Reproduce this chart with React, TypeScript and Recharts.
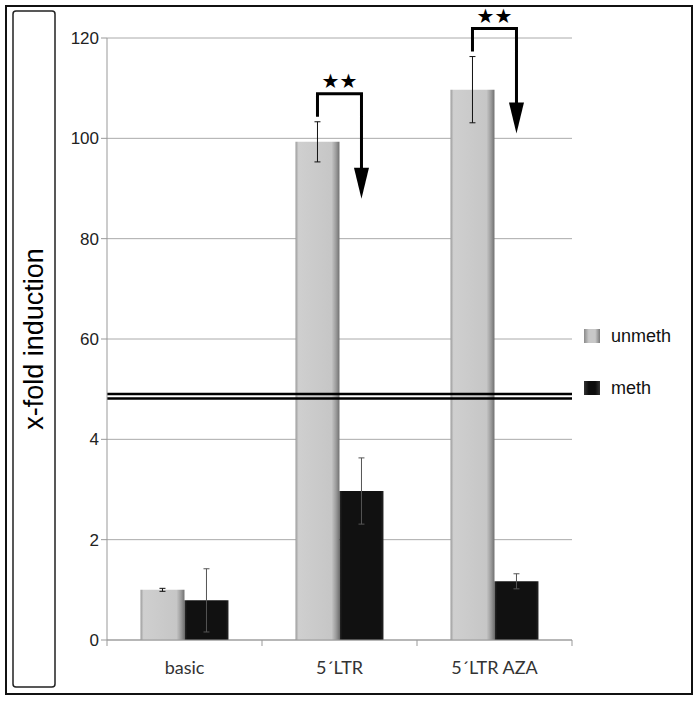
import { BarChart, Bar, XAxis, YAxis, CartesianGrid, ErrorBar, ReferenceLine, Legend, LabelList } from 'recharts'

const categories = ['basic', '5´LTR', '5´LTR AZA']
const unmeth = [1.0, 99.3, 109.7]
const unmethErr = [0.03, 4.0, 6.6]
const meth = [0.79, 2.97, 1.17]
const methErr = [0.63, 0.66, 0.15]
const significance = ['', '★★', '★★']
const yTickValues = [0, 2, 4, 60, 80, 100, 120]

// broken axis: 0-4 on the lower half, 60-120 on the upper half
const toAxis = (v: number) => (v <= 4 ? v / 2 : 3 + (v - 60) / 20)
const breakAt = 2.43

const rows = categories.map((name, i) => {
  const u = toAxis(unmeth[i])
  const m = toAxis(meth[i])
  return {
    name,
    unmeth: u,
    meth: m,
    unmethErr: [u - toAxis(unmeth[i] - unmethErr[i]), toAxis(unmeth[i] + unmethErr[i]) - u],
    methErr: [m - toAxis(meth[i] - methErr[i]), toAxis(meth[i] + methErr[i]) - m]
  }
})

const SANS = '"Liberation Sans", Arial, sans-serif'
const BAND = (572 - 107) / categories.length

const SigArrow = (props: any) => {
  const { x, y, width, height, value, index } = props
  const mark = significance[index]
  if (!mark) return null
  const ppu = height / value
  const errTop = y - rows[index].unmethErr[1] * ppu
  const lx = x + width / 2
  const rx = x + width * 1.5
  const hy = errTop - 28
  return (
    <g>
      <polyline
        points={`${lx},${errTop - 5} ${lx},${hy} ${rx},${hy} ${rx},${hy + 76}`}
        fill="none"
        stroke="#000"
        strokeWidth={3}
      />
      <polygon points={`${rx - 7.5},${hy + 74} ${rx + 7.5},${hy + 74} ${rx},${hy + 105}`} fill="#000" />
      <text
        x={(lx + rx) / 2}
        y={hy - 6}
        textAnchor="middle"
        fontSize={20}
        fontFamily="DejaVu Sans"
        fill="#000"
      >
        {mark}
      </text>
    </g>
  )
}

const XTick = (props: any) => {
  const { x, y, payload, index } = props
  return (
    <g>
      <line x1={x - BAND / 2} y1={y - 8} x2={x - BAND / 2} y2={y - 2} stroke="#999" />
      {index === categories.length - 1 && (
        <line x1={x + BAND / 2} y1={y - 8} x2={x + BAND / 2} y2={y - 2} stroke="#999" />
      )}
      <text x={x} y={y + 26} textAnchor="middle" fontSize={18} fontFamily="Lato, sans-serif" fill="#333">
        {payload.value}
      </text>
    </g>
  )
}

const YLabel = () => (
  <g>
    <rect x={13} y={11} width={42} height={676} rx={3} fill="none" stroke="#222" strokeWidth={1.5} />
    <text
      x={43}
      y={339}
      transform="rotate(-90 43 339)"
      textAnchor="middle"
      fontSize={27}
      fontFamily={SANS}
      fill="#000"
    >
      x-fold induction
    </text>
  </g>
)

const legendItems = [
  { label: 'unmeth', bg: 'linear-gradient(90deg,#8a8a8a,#c8c8c8 30%,#c8c8c8 70%,#7a7a7a)' },
  { label: 'meth', bg: 'linear-gradient(90deg,#333,#0d0d0d 30%,#0d0d0d 70%,#333)' }
]

const LegendBox = () => (
  <div style={{ fontFamily: SANS, fontSize: 18, color: '#111' }}>
    {legendItems.map(it => (
      <div key={it.label} style={{ display: 'flex', alignItems: 'center', height: 26, marginBottom: 26 }}>
        <span style={{ display: 'inline-block', width: 16, height: 14, background: it.bg }} />
        <span style={{ marginLeft: 11 }}>{it.label}</span>
      </div>
    ))}
  </div>
)

export default function App() {
  return (
    <div style={{ position: 'absolute', left: 0, top: 0, width: 699, height: 701, background: '#fff' }}>
      <BarChart
        width={699}
        height={701}
        data={rows}
        margin={{ top: 38, right: 127, bottom: 21, left: 0 }}
        barCategoryGap="21.6%"
        barGap={0}
      >
        <defs>
          <linearGradient id="gUnmeth" x1="0" y1="0" x2="1" y2="0">
            <stop offset="0%" stopColor="#9a9a9a" />
            <stop offset="7%" stopColor="#cfcfcf" />
            <stop offset="82%" stopColor="#c6c6c6" />
            <stop offset="92%" stopColor="#9c9c9c" />
            <stop offset="100%" stopColor="#707070" />
          </linearGradient>
          <linearGradient id="gMeth" x1="0" y1="0" x2="1" y2="0">
            <stop offset="0%" stopColor="#2a2a2a" />
            <stop offset="6%" stopColor="#111" />
            <stop offset="94%" stopColor="#111" />
            <stop offset="100%" stopColor="#262626" />
          </linearGradient>
        </defs>
        <CartesianGrid vertical={false} stroke="#aaa" />
        <XAxis
          dataKey="name"
          height={40}
          axisLine={{ stroke: '#999' }}
          tickLine={false}
          tick={<XTick />}
          interval={0}
        />
        <YAxis
          width={107}
          domain={[0, 6]}
          ticks={yTickValues.map(toAxis)}
          tickFormatter={(v: number) => String(yTickValues[Math.round(v)])}
          axisLine={{ stroke: '#999' }}
          tickLine={{ stroke: '#999' }}
          tickSize={6}
          tick={{ fontSize: 17, fontFamily: SANS, fill: '#222' }}
          label={<YLabel />}
        />
        <Legend
          layout="horizontal"
          verticalAlign="middle"
          align="center"
          content={<LegendBox />}
          wrapperStyle={{ left: 584, top: 323, width: 110 }}
        />
        <Bar dataKey="unmeth" fill="url(#gUnmeth)" isAnimationActive={false}>
          <ErrorBar dataKey="unmethErr" width={3} stroke="#111" strokeWidth={1} />
          <LabelList dataKey="unmeth" content={<SigArrow />} />
        </Bar>
        <Bar dataKey="meth" fill="url(#gMeth)" isAnimationActive={false}>
          <ErrorBar dataKey="methErr" width={3} stroke="#555" strokeWidth={1} />
        </Bar>
        <ReferenceLine y={breakAt + 0.022} stroke="#000" strokeWidth={2.5} />
        <ReferenceLine y={breakAt - 0.022} stroke="#000" strokeWidth={2.5} />
      </BarChart>
      <div
        style={{
          position: 'absolute',
          left: 5,
          top: 5,
          width: 684,
          height: 686,
          border: '2px solid #111',
          pointerEvents: 'none'
        }}
      />
    </div>
  )
}
